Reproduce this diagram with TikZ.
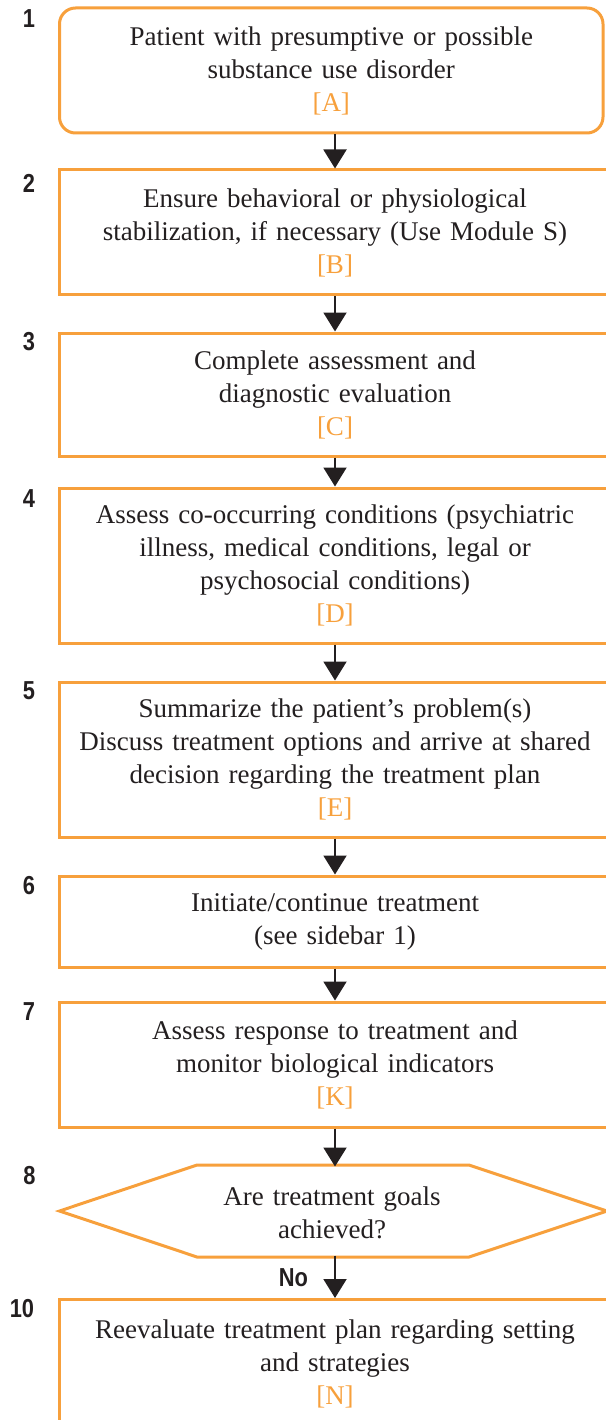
\documentclass[tikz,border=0pt]{standalone}
\usepackage{fontspec}
\usepackage{graphicx}
\setmainfont{Liberation Serif}
\newfontfamily\numfont{Liberation Sans}
\usetikzlibrary{arrows.meta}
\definecolor{org}{RGB}{247,160,60}
\definecolor{ink}{RGB}{35,31,32}
\newcommand{\lbl}[1]{\textcolor{org}{[#1]}}
\newcommand{\numtxt}[1]{\scalebox{0.84}[1]{\numfont\bfseries #1}}
\begin{document}
\begin{tikzpicture}[x=1pt,y=-1pt,
  stepbox/.style={draw=org, line width=3pt, minimum width=551pt, align=center,
    text width=540pt, inner sep=0pt, text=ink, font=\fontsize{27}{33}\selectfont},
  decision/.style={minimum width=546pt, minimum height=92pt, align=center,
    text width=400pt, inner sep=0pt, text=ink, font=\fontsize{27}{33}\selectfont},
  hexline/.style={draw=org, line width=3pt, line join=miter},
  num/.style={text=ink, font=\fontsize{26}{28}\selectfont, inner sep=0pt},
  arr/.style={draw=ink, line width=2pt, -{Triangle[width=23pt,length=19pt]}}]
\useasboundingbox (0,0) rectangle (605,1420);
\coordinate (ax) at (335,0);

\node[stepbox, rounded corners=16pt, minimum width=543.5pt, minimum height=125pt] (b1) at (331.25,70.5)
  {Patient with presumptive or possible\\substance use disorder\\\lbl{A}};
\node[stepbox, minimum height=125pt] (b2) at (335,232.5)
  {Ensure behavioral or physiological\\stabilization, if necessary (Use Module S)\\\lbl{B}};
\node[stepbox, minimum height=123pt] (b3) at (335,394.5)
  {Complete assessment and\\diagnostic evaluation\\\lbl{C}};
\node[stepbox, minimum height=155pt] (b4) at (335,565.5)
  {Assess co-occurring conditions (psychiatric\\illness, medical conditions, legal or\\psychosocial conditions)\\\lbl{D}};
\node[stepbox, minimum height=155pt] (b5) at (335,759.5)
  {Summarize the patient's problem(s)\\Discuss treatment options and arrive at shared\\decision regarding the treatment plan\\\lbl{E}};
\node[stepbox, minimum height=91pt] (b6) at (335,921.5)
  {Initiate/continue treatment\\(see sidebar 1)};
\node[stepbox, minimum height=125pt] (b7) at (335,1064.5)
  {Assess response to treatment and\\monitor biological indicators\\\lbl{K}};
\node[decision] (q8) at (332,1213) {Are treatment goals\\achieved?};
\draw[hexline] (59.5,1211) -- (197,1165) -- (469,1165) -- (607,1211) -- (469,1257) -- (197,1257) -- cycle;
\node[stepbox, minimum height=128pt] (b10) at (335,1363.5)
  {Reevaluate treatment plan regarding setting\\and strategies\\\lbl{N}};

\node[num] (n1) at (29,19) {\numtxt{1}};
\node[num] (n2) at (29,183) {\numtxt{2}};
\node[num] (n3) at (29,342) {\numtxt{3}};
\node[num] (n4) at (29,499) {\numtxt{4}};
\node[num] (n5) at (29,691) {\numtxt{5}};
\node[num] (n6) at (29,886) {\numtxt{6}};
\node[num] (n7) at (29,1012) {\numtxt{7}};
\node[num] (n8) at (29.5,1176) {\numtxt{8}};
\node[num] (n10) at (22,1308.5) {\numtxt{10}};

\coordinate (q8top) at (335,1165);
\coordinate (q8bot) at (335,1257);
\draw[arr] (b1.south -| ax) -- (b2.north -| ax);
\draw[arr] (b2.south -| ax) -- (b3.north -| ax);
\draw[arr] (b3.south -| ax) -- (b4.north -| ax);
\draw[arr] (b4.south -| ax) -- (b5.north -| ax);
\draw[arr] (b5.south -| ax) -- (b6.north -| ax);
\draw[arr] (b6.south -| ax) -- (b7.north -| ax);
\draw[arr] (b7.south -| ax) -- ([yshift=-1.5pt]q8top);
\draw[arr] ([yshift=1.5pt]q8bot) -- node[num, left=26pt, pos=0.52] (no) {\numtxt{No}} (b10.north -| ax);
\end{tikzpicture}
\end{document}
